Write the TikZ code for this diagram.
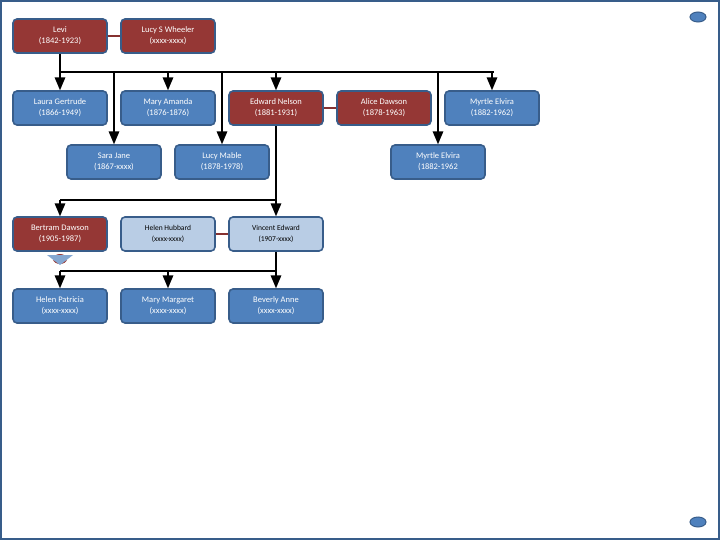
\documentclass[tikz,border=0pt]{standalone}
\usepackage{fontspec}
\setmainfont{Carlito}
\usetikzlibrary{arrows,positioning,shapes.geometric}
\definecolor{famred}{HTML}{953735}
\definecolor{famblue}{HTML}{4F81BD}
\definecolor{famlight}{HTML}{B9CDE5}
\definecolor{famedge}{HTML}{385D8A}
\begin{document}
\begin{tikzpicture}[x=1pt,y=-1pt,
    person/.style={draw=famedge, line width=1.6pt, rounded corners=4pt, minimum width=94pt, minimum height=34pt, align=center, font=\fontsize{8.5}{11}\selectfont, text=white, fill=famblue},
    blood/.style={person, fill=famred},
    inlaw/.style={person, fill=famlight, text=black, font=\fontsize{7.5}{11}\selectfont},
    line/.style={line width=2pt, black},
    down/.style={line, -triangle 45},
    wed/.style={line width=2pt, famred!90!black}]
    % Frame
    \useasboundingbox (0,0) rectangle (720,540);
    \draw[famedge, line width=1.5pt] (1,1) rectangle (719,539);
    \fill[famblue, draw=famedge, line width=1pt] (698,17) ellipse (8pt and 5pt);
    \fill[famblue, draw=famedge, line width=1pt] (698,522) ellipse (8pt and 5pt);

    % First generation
    \node[blood] (levi) at (60,36) {Levi\\(1842-1923)};
    \node[blood] (lucyw) at (168,36) {Lucy S Wheeler\\(xxxx-xxxx)};
    \draw[wed] (levi) -- (lucyw);

    % Children
    \node[person] (laura) at (60,108) {Laura Gertrude\\(1866-1949)};
    \node[person] (mary) at (168,108) {Mary Amanda\\(1876-1876)};
    \node[blood] (edward) at (276,108) {Edward Nelson\\(1881-1931)};
    \node[blood] (alice) at (384,108) {Alice Dawson\\(1878-1963)};
    \node[person] (myrtle) at (492,108) {Myrtle Elvira\\(1882-1962)};
    \node[person] (sara) at (114,162) {Sara Jane\\(1867-xxxx)};
    \node[person] (mable) at (222,162) {Lucy Mable\\(1878-1978)};
    \node[person] (myrtleb) at (438,162) {Myrtle Elvira\\(1882-1962};
    \draw[wed] (edward) -- (alice);

    \coordinate (bus) at (60,72);
    \draw[line] (levi.south) -- (bus);
    \draw[line] (60,72) -- (494,72);
    \foreach \n in {laura,mary,edward,myrtle,sara,mable,myrtleb}
        \draw[down] (\n.north |- bus) -- (\n.north);

    % Grandchildren
    \node[blood] (bertram) at (60,234) {Bertram Dawson\\(1905-1987)};
    \node[inlaw] (hubbard) at (168,234) {Helen Hubbard\\(xxxx-xxxx)};
    \node[inlaw] (vincent) at (276,234) {Vincent Edward\\(1907-xxxx)};
    \draw[wed] (hubbard) -- (vincent);
    \coordinate (busb) at (276,200);
    \draw[line] (edward.south) -- (busb);
    \draw[line] (bertram.north |- busb) -- (busb);
    \foreach \n in {bertram,vincent}
        \draw[down] (\n.north |- busb) -- (\n.north);

    % Expand marker
    \fill[famred] (60,259) ellipse (7pt and 5pt);
    \fill[famblue!70] (47,255) -- (73,255) -- (60,265) -- cycle;

    % Great-grandchildren
    \node[person] (patricia) at (60,306) {Helen Patricia\\(xxxx-xxxx)};
    \node[person] (margaret) at (168,306) {Mary Margaret\\(xxxx-xxxx)};
    \node[person] (beverly) at (276,306) {Beverly Anne\\(xxxx-xxxx)};
    \coordinate (busc) at (276,271);
    \draw[line] (vincent.south) -- (busc);
    \draw[line] (patricia.north |- busc) -- (busc);
    \foreach \n in {patricia,margaret,beverly}
        \draw[down] (\n.north |- busc) -- (\n.north);
\end{tikzpicture}
\end{document}
